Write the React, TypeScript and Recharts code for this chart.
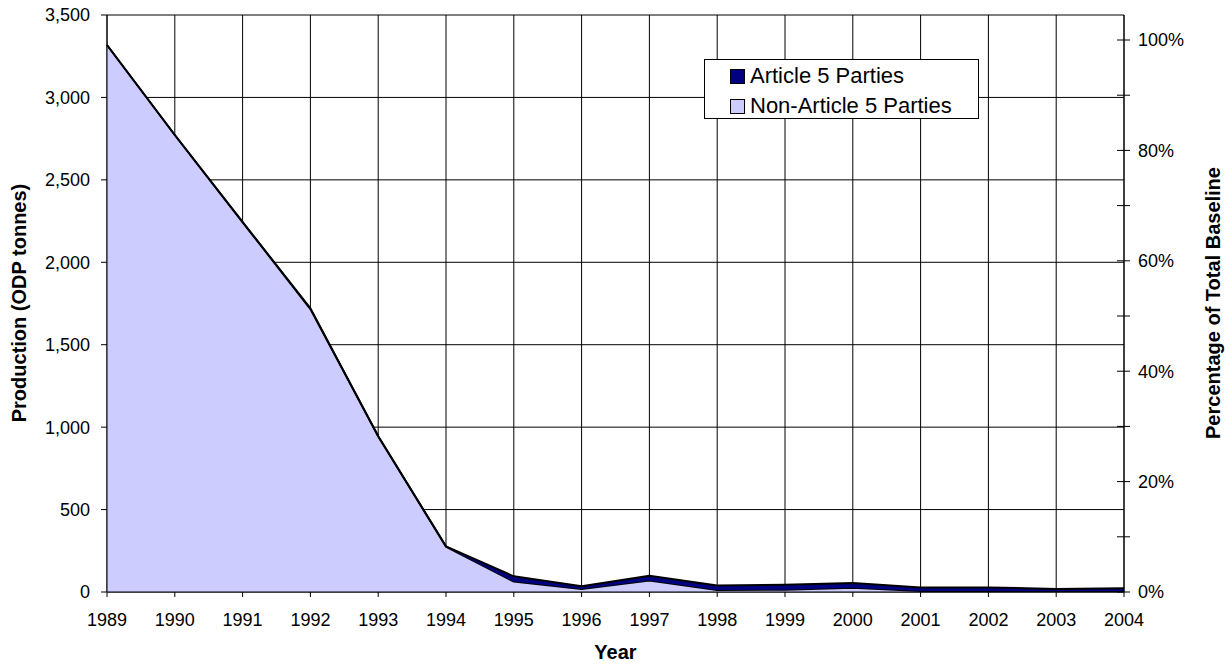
import React from 'react';
import {
  AreaChart,
  Area,
  XAxis,
  YAxis,
  CartesianGrid,
  Label,
} from 'recharts';

const years = ['1989', '1990', '1991', '1992', '1993', '1994', '1995', '1996', '1997', '1998', '1999', '2000', '2001', '2002', '2003', '2004'];
const nonArticle5 = [3318, 2772, 2244, 1716, 945, 275, 63, 18, 70, 12, 14, 26, 6, 6, 3, 4];
const article5 = [0, 0, 0, 5, 0, 2, 32, 17, 28, 28, 30, 28, 22, 22, 15, 18];
const leftTicks = [0, 500, 1000, 1500, 2000, 2500, 3000, 3500];
const rightTicks = [0, 10, 20, 30, 40, 50, 60, 70, 80, 90, 100];
const rightMax = 104.53;

const seriesNames = { article5: 'Article 5 Parties', nonArticle5: 'Non-Article 5 Parties' };
const colors = { article5: '#000080', nonArticle5: '#CCCCFF' };

const chartData = years.map((year, i) => ({
  year,
  nonArticle5: nonArticle5[i],
  article5: article5[i],
}));

const FONT = '"Liberation Sans", Arial, sans-serif';

const RightTick = (props: any) => {
  const { x, y, payload } = props;
  const v = payload.value;
  return (
    <g>
      <line x1={x - 7} x2={x + 6} y1={y} y2={y} stroke="#000" strokeWidth={1} />
      {v % 20 === 0 && (
        <text x={x + 14} y={y} dy="0.355em" textAnchor="start" fontSize={18} fontFamily={FONT} fill="#000">
          {`${v}%`}
        </text>
      )}
    </g>
  );
};

export default function App() {
  return (
    <div style={{ position: 'absolute', left: 0, top: 0, width: 1232, height: 666, background: '#fff', fontFamily: FONT }}>
      <AreaChart
        width={1232}
        height={666}
        data={chartData}
        margin={{ top: 15, right: 0, bottom: 0, left: 0 }}
      >
        <CartesianGrid yAxisId="left" stroke="#000" strokeWidth={1} vertical={true} horizontal={true} />
        <XAxis
          dataKey="year"
          interval={0}
          height={74}
          tickSize={5}
          tickMargin={16}
          stroke="#000"
          tick={{ fontSize: 18, fill: '#000', fontFamily: FONT }}
          tickLine={{ stroke: '#000' }}
        >
          <Label
            content={() => (
              <text x={615.5} y={652} textAnchor="middle" dominantBaseline="central" fontSize={20} fontWeight="bold" fontFamily={FONT} fill="#000">
                Year
              </text>
            )}
          />
        </XAxis>
        <YAxis
          yAxisId="left"
          orientation="left"
          width={107}
          domain={[0, 3500]}
          ticks={leftTicks}
          type="number"
          allowDataOverflow
          tickSize={6}
          tickMargin={11}
          stroke="#000"
          tick={{ fontSize: 18, fill: '#000', fontFamily: FONT }}
          tickFormatter={(v: number) => v.toLocaleString('en-US')}
        >
          <Label
            content={() => (
              <text x={19} y={303} transform="rotate(-90 19 303)" textAnchor="middle" dominantBaseline="central" fontSize={20} fontWeight="bold" fontFamily={FONT} fill="#000">
                Production (ODP tonnes)
              </text>
            )}
          />
        </YAxis>
        <YAxis
          yAxisId="right"
          orientation="right"
          width={108}
          domain={[0, rightMax]}
          ticks={rightTicks}
          type="number"
          allowDataOverflow
          tickSize={0}
          tickMargin={0}
          tickLine={false}
          stroke="#000"
          tick={<RightTick />}
        >
          <Label
            content={() => (
              <text x={1213} y={303} transform="rotate(-90 1213 303)" textAnchor="middle" dominantBaseline="central" fontSize={20} fontWeight="bold" fontFamily={FONT} fill="#000">
                Percentage of Total Baseline
              </text>
            )}
          />
        </YAxis>
        <Area
          yAxisId="left"
          type="linear"
          dataKey="nonArticle5"
          name={seriesNames.nonArticle5}
          stackId="1"
          fill={colors.nonArticle5}
          fillOpacity={1}
          stroke="#000"
          strokeWidth={2}
          isAnimationActive={false}
          dot={false}
          activeDot={false}
        />
        <Area
          yAxisId="left"
          type="linear"
          dataKey="article5"
          name={seriesNames.article5}
          stackId="1"
          fill={colors.article5}
          fillOpacity={1}
          stroke="#000"
          strokeWidth={2}
          isAnimationActive={false}
          dot={false}
          activeDot={false}
        />
      </AreaChart>
      <div
        style={{
          position: 'absolute',
          left: 704,
          top: 59,
          width: 275,
          height: 60,
          boxSizing: 'border-box',
          border: '1px solid #000',
          background: '#fff',
          fontFamily: FONT,
          fontSize: 22,
          color: '#000',
        }}
      >
        {(['article5', 'nonArticle5'] as const).map((key, i) => (
          <div
            key={key}
            style={{
              position: 'absolute',
              left: 25,
              top: 1 + i * 30,
              height: 30,
              display: 'flex',
              alignItems: 'center',
              whiteSpace: 'nowrap',
            }}
          >
            <span
              style={{
                display: 'inline-block',
                width: 15,
                height: 15,
                boxSizing: 'border-box',
                border: '1.5px solid #000',
                background: colors[key],
                marginRight: 5,
              }}
            />
            <span>{seriesNames[key]}</span>
          </div>
        ))}
      </div>
    </div>
  );
}
